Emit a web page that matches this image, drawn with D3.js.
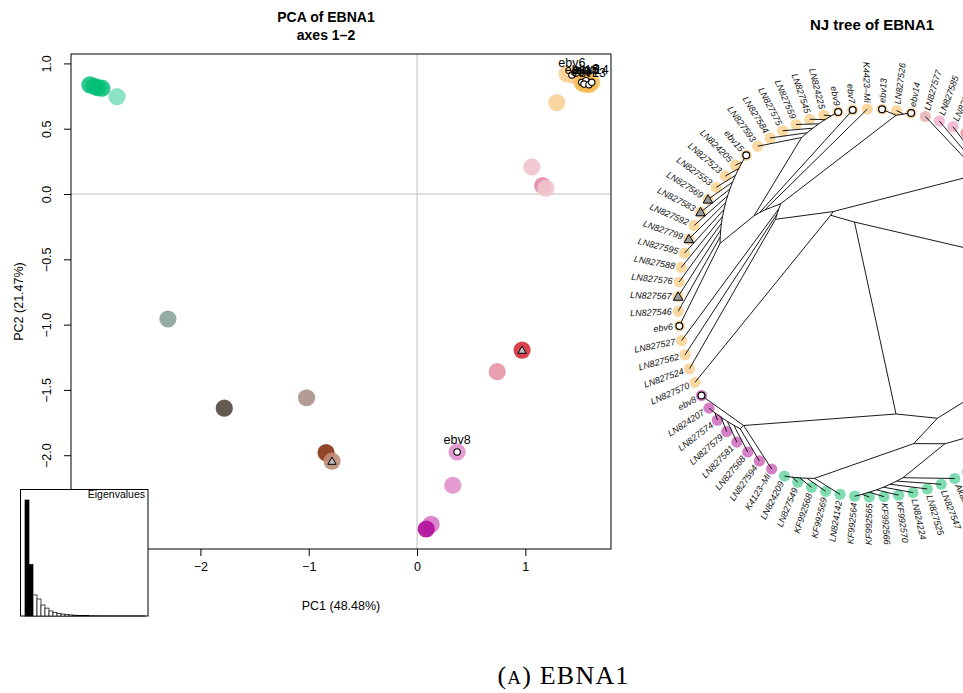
<!DOCTYPE html>
<html>
<head>
<meta charset="utf-8">
<script src="https://cdn.jsdelivr.net/npm/d3@7"></script>
<style>
  body { margin: 0; background: #fff; }
  svg { display: block; font-family: "Liberation Sans", Arial, Helvetica, sans-serif; }
</style>
</head>
<body>
<svg id="fig" width="963" height="693"></svg>
<script>
// ---------------- PCA scores (axes 1 and 2) ----------------
const pcaPC1 = [-3.02, -2.98, -2.95, -2.91, -2.77, -2.30, -1.78, -1.02, -0.84, -0.785,
                0.37, 0.33, 0.13, 0.085, 0.97, 0.74, 1.06, 1.16, 1.19, 1.29,
                1.385, 1.43, 1.521, 1.560, 1.542, 1.588, 1.613, 1.57];
const pcaPC2 = [0.835, 0.825, 0.815, 0.81, 0.745, -0.957, -1.64, -1.56, -1.98, -2.045,
                -1.975, -2.23, -2.53, -2.565, -1.195, -1.36, 0.207, 0.065, 0.045, 0.70,
                0.92, 0.912, 0.855, 0.868, 0.842, 0.837, 0.855, 0.85];
const pcaGroup = ["green", "green", "green", "green", "greenPale", "teal", "charcoal", "taupe", "rust", "clay",
                  "orchid", "orchid", "orchidPale", "magenta", "crimson", "rose", "blush", "pinkDeep", "blush", "apricot",
                  "apricot", "apricot", "amber", "amber", "amber", "amber", "amber", "amber"];
const pcaLabel = ["", "", "", "", "", "", "", "", "", "",
                  "ebv8", "", "", "", "", "", "", "", "", "",
                  "", "ebv6", "ebv15", "ebv9", "ebv7", "ebv13", "ebv14", ""];
const pcaTriangle = ["clay", "crimson"]; // groups carrying a triangle marker
const xTicks = [-3, -2, -1, 0, 1];
const yTicks = [-2.5, -2, -1.5, -1, -0.5, 0, 0.5, 1];
const pcPercent = ["48.48", "21.47"];
const eigenvalues = [48.48, 21.47, 8.8, 7.1, 4.6, 3.3, 2.1, 1.5, 1.1, 0.8,
                     0.6, 0.45, 0.35, 0.27, 0.2, 0.15, 0.12, 0.1, 0.08, 0.06,
                     0.05, 0.04, 0.03, 0.03, 0.02, 0.02, 0.01, 0.01, 0.01, 0.01];

// ---------------- NJ tree (nested clades, tips in plotting order) ----------------
const cladePurple = ["K4123–Mi", ["LN827594", ["LN827568", ["LN827581", ["LN827579", ["LN827574", "LN824207"]]]]], "ebv8"];
const cladeGreenA = ["LN824142", ["KF992569", ["KF992568", ["LN827549", "LN824209"]]]];
const cladeGreenB = ["Akata", ["LN827547", ["LN827525", ["LN824224", ["KF992570", ["KF992566", ["KF992565", "KF992564"]]]]]]];
const cladeGreenC = [["LN827557", ["LN827558", "LN827560"]], [["LN827561", "LN827563"], ["LN827564", ["LN827565", "LN827566"]]]];
const cladeBrown = [["LN827550", "LN827551"], [["LN827552", "LN827554"], ["LN827555", "LN827556"]]];
const cladeOrangeA = ["LN827799", ["LN827592", ["LN827583", ["LN827569", ["LN827553", ["LN827523", ["LN824205", "ebv15"]]]]]]];
const cladeOrangeB = ["ebv6", ["LN827546", ["LN827567", ["LN827576", ["LN827588", ["LN827595", cladeOrangeA]]]]]];
const cladeOrangeC = ["LN827593", ["LN827584", ["LN827575", ["LN827559", ["LN827545", ["LN824225", "ebv9"]]]]]];
const cladeOrangeTop = ["ebv13", ["LN827526", "ebv14"]];
const cladeOrange = ["LN827524", ["LN827562", ["LN827527", [[[[cladeOrangeB, cladeOrangeC], "ebv7"], "K4423–Mi"], cladeOrangeTop]]]];
const cladeRoseA = [["LN827528", "LN827529"], [["LN827531", ["LN827532", "LN827533"]], [["LN827534", "LN827536"], ["LN827537", "LN827538"]]]];
const cladePink = ["LN827577", ["LN827585", ["LN827580", cladeRoseA]]];
const cladeRoseB = [["LN827539", ["LN827541", "LN827542"]], [["LN827543", "LN827544"], "LN827548"]];
const njTree = [
  [[cladeBrown, [[cladeGreenC, cladeGreenB], cladeGreenA]], cladePurple],
  [["LN827570", [cladeOrange, cladePink]], cladeRoseB]
];

const tipsPurple = ["K4123–Mi", "LN827594", "LN827568", "LN827581", "LN827579", "LN827574", "LN824207", "ebv8"];
const tipsPink = ["LN827585", "LN827580"];
const tipsDusty = ["LN827577"];
const tipsRose = ["LN827528", "LN827529", "LN827531", "LN827532", "LN827533", "LN827534", "LN827536", "LN827537", "LN827538",
                  "LN827539", "LN827541", "LN827542", "LN827543", "LN827544", "LN827548"];
const tipsBrown = ["LN827550", "LN827551", "LN827552", "LN827554", "LN827555", "LN827556"];
const tipsGreen = ["LN824142", "KF992569", "KF992568", "LN827549", "LN824209", "Akata", "LN827547", "LN827525", "LN824224",
                   "KF992570", "KF992566", "KF992565", "KF992564", "LN827557", "LN827558", "LN827560", "LN827561",
                   "LN827563", "LN827564", "LN827565", "LN827566"];
const tipsEbv = ["ebv6", "ebv7", "ebv8", "ebv9", "ebv13", "ebv14", "ebv15"];
const tipsTriangle = ["LN827567", "LN827583", "LN827569", "LN827799"];

// ---------------- styles ----------------
const pcaColor = {
  green: ["#05BE78", 0.85], greenPale: ["#00BF7D", 0.45], teal: ["#8FA8A0", 0.95], charcoal: ["#645A50", 1],
  taupe: ["#B29C94", 1], rust: ["#8B3C1E", 0.95], clay: ["#BE8C78", 0.9], orchid: ["#E296D0", 0.95],
  orchidPale: ["#D778C8", 0.9], magenta: ["#B4149E", 0.95], crimson: ["#D8434F", 1], rose: ["#E8A0B0", 1],
  blush: ["#F0C4CC", 0.9], pinkDeep: ["#E88CAF", 0.95], apricot: ["#F8D296", 0.9], amber: ["#F6B64A", 0.7]
};
const tipColor = name =>
  tipsPurple.includes(name) ? "#D47FC6" :
  tipsPink.includes(name) ? "#F2BCD2" :
  tipsDusty.includes(name) ? "#E9BDBD" :
  tipsRose.includes(name) ? "#EBA3B4" :
  tipsBrown.includes(name) ? "#B9A08F" :
  tipsGreen.includes(name) ? "#7FDCB0" : "#F9D8A2";

const svg = d3.select("#fig");

// ================= PCA scatter =================
const px = d3.scaleLinear().domain([-3.195, 1.791]).range([71, 611]);
const py = d3.scaleLinear().domain([-2.718, 1.072]).range([549, 54]);
const pca = svg.append("g");

pca.append("line").attr("x1", px(0)).attr("x2", px(0)).attr("y1", py.range()[1]).attr("y2", py.range()[0])
  .attr("stroke", "#BEBEBE").attr("stroke-width", 1);
pca.append("line").attr("x1", px.range()[0]).attr("x2", px.range()[1]).attr("y1", py(0)).attr("y2", py(0))
  .attr("stroke", "#BEBEBE").attr("stroke-width", 1);

const xAxis = pca.append("g").attr("transform", `translate(0,${py.range()[0]})`)
  .call(d3.axisBottom(px).tickValues(xTicks).tickSize(7).tickPadding(6).tickFormat(d3.format("d")));
xAxis.select(".domain").remove();
xAxis.selectAll("text").attr("font-size", 12.5).attr("font-family", "Liberation Sans, Arial, sans-serif").attr("fill", "#000");

const yAxis = pca.append("g").attr("transform", `translate(${px.range()[0]},0)`)
  .call(d3.axisLeft(py).tickValues(yTicks).tickSize(7).tickFormat(d3.format(".1f")));
yAxis.select(".domain").remove();
yAxis.selectAll("text").attr("font-size", 12.5).attr("font-family", "Liberation Sans, Arial, sans-serif").attr("fill", "#000")
  .attr("transform", "rotate(-90)").attr("x", 0).attr("y", -20.5).attr("dy", 0).attr("text-anchor", "middle");

pca.append("rect").attr("x", px.range()[0]).attr("y", py.range()[1])
  .attr("width", px.range()[1] - px.range()[0]).attr("height", py.range()[0] - py.range()[1])
  .attr("fill", "none").attr("stroke", "#000").attr("stroke-width", 1);

pca.append("text").attr("x", 341).attr("y", 610).attr("text-anchor", "middle").attr("font-size", 12.5)
  .text(`PC1 (${pcPercent[0]}%)`);
pca.append("text").attr("transform", "translate(22.5,301.5) rotate(-90)").attr("text-anchor", "middle").attr("font-size", 12.5)
  .text(`PC2 (${pcPercent[1]}%)`);

pca.append("text").attr("x", 326).attr("y", 22).attr("text-anchor", "middle").attr("font-size", 14).attr("font-weight", "bold")
  .text("PCA of EBNA1");
pca.append("text").attr("x", 326).attr("y", 40).attr("text-anchor", "middle").attr("font-size", 14).attr("font-weight", "bold")
  .text("axes 1–2");

const pts = pcaPC1.map((v, i) => ({ x: v, y: pcaPC2[i], g: pcaGroup[i], label: pcaLabel[i] }));
pca.selectAll("circle.pt").data(pts).join("circle").attr("class", "pt")
  .attr("cx", d => px(d.x)).attr("cy", d => py(d.y)).attr("r", 8.6)
  .attr("fill", d => pcaColor[d.g][0]).attr("fill-opacity", d => pcaColor[d.g][1]);

pca.selectAll("path.tri").data(pts.filter(d => pcaTriangle.includes(d.g))).join("path").attr("class", "tri")
  .attr("d", d3.symbol(d3.symbolTriangle).size(30))
  .attr("transform", d => `translate(${px(d.x)},${py(d.y) + 0.8})`)
  .attr("fill", "#BDBDBD").attr("stroke", "#000").attr("stroke-width", 1);

const ebvPts = pts.filter(d => d.label);
pca.selectAll("circle.ebv").data(ebvPts).join("circle").attr("class", "ebv")
  .attr("cx", d => px(d.x)).attr("cy", d => py(d.y)).attr("r", 3.2)
  .attr("fill", "#fff").attr("stroke", "#000").attr("stroke-width", 1.1);
pca.selectAll("text.ebvl").data(ebvPts).join("text").attr("class", "ebvl")
  .attr("x", d => px(d.x)).attr("y", d => py(d.y) - 8).attr("text-anchor", "middle").attr("font-size", 12.5)
  .text(d => d.label);

// Eigenvalue inset
const inset = svg.append("g");
inset.append("rect").attr("x", 20.5).attr("y", 489.5).attr("width", 127.5).attr("height", 126.5)
  .attr("fill", "#fff").attr("stroke", "#000").attr("stroke-width", 1);
const ex = d3.scaleBand().domain(d3.range(eigenvalues.length)).range([25, 145]).paddingInner(0);
const ey = d3.scaleLinear().domain([0, d3.max(eigenvalues)]).range([616, 500]);
inset.selectAll("rect.bar").data(eigenvalues).join("rect").attr("class", "bar")
  .attr("x", (d, i) => ex(i)).attr("width", ex.bandwidth())
  .attr("y", d => ey(d)).attr("height", d => ey(0) - ey(d))
  .attr("fill", (d, i) => i < 2 ? "#000" : "#fff").attr("stroke", "#000").attr("stroke-width", 0.7);
inset.append("text").attr("x", 145).attr("y", 498).attr("text-anchor", "end").attr("font-size", 10.5).text("Eigenvalues");

// ================= NJ tree (radial cladogram) =================
const cx = 872, cy = 303, R = 194;
const root = d3.hierarchy(njTree, d => Array.isArray(d) ? d : null);
const leaves = root.leaves();
const N = leaves.length;
const angle = d3.scaleLinear().domain([0, N]).range([4.05, 364.05]);
const radius = d3.scaleLinear().domain([N, 1]).range([0, R]);
leaves.forEach((l, i) => { l.a = angle(i); });
root.eachAfter(n => {
  const lv = n.leaves();
  if (n.children) n.a = d3.mean(lv, l => l.a);
  n.r = radius(lv.length);
  const t = n.a * Math.PI / 180;
  n.px = cx + n.r * Math.cos(t);
  n.py = cy + n.r * Math.sin(t);
});

const tree = svg.append("g");
tree.append("text").attr("x", 872).attr("y", 30).attr("text-anchor", "middle").attr("font-size", 15).attr("font-weight", "bold")
  .text("NJ tree of EBNA1");

tree.selectAll("circle.tip").data(leaves).join("circle").attr("class", "tip")
  .attr("cx", d => d.px).attr("cy", d => d.py).attr("r", 5.6).attr("fill", d => tipColor(d.data));

tree.selectAll("line.edge").data(root.links()).join("line").attr("class", "edge")
  .attr("x1", d => d.source.px).attr("y1", d => d.source.py)
  .attr("x2", d => d.target.px).attr("y2", d => d.target.py)
  .attr("stroke", "#000").attr("stroke-width", 0.9);

tree.selectAll("circle.ebvtip").data(leaves.filter(l => tipsEbv.includes(l.data))).join("circle").attr("class", "ebvtip")
  .attr("cx", d => d.px).attr("cy", d => d.py).attr("r", 3.4)
  .attr("fill", "#fff").attr("stroke", "#000").attr("stroke-width", 1.2);
tree.selectAll("path.tritip").data(leaves.filter(l => tipsTriangle.includes(l.data))).join("path").attr("class", "tritip")
  .attr("d", d3.symbol(d3.symbolTriangle).size(40))
  .attr("transform", d => `translate(${d.px},${d.py + 0.8})`)
  .attr("fill", "#9C9C9C").attr("stroke", "#000").attr("stroke-width", 1);

tree.selectAll("text.tiplab").data(leaves).join("text").attr("class", "tiplab")
  .attr("font-size", 9).attr("font-style", "italic").attr("fill", "#111").attr("dominant-baseline", "central")
  .attr("transform", d => {
    const left = Math.cos(d.a * Math.PI / 180) < 0;
    return `translate(${cx},${cy}) rotate(${d.a}) translate(${R + 6.5},0)` + (left ? " rotate(180)" : "");
  })
  .attr("text-anchor", d => Math.cos(d.a * Math.PI / 180) < 0 ? "end" : "start")
  .text(d => d.data);

// ================= caption =================
const cap = svg.append("text").attr("x", 563.5).attr("y", 684).attr("text-anchor", "middle")
  .attr("font-family", "Liberation Serif, DejaVu Serif, serif").attr("font-size", 26).attr("letter-spacing", 1.2);
cap.append("tspan").text("(");
cap.append("tspan").attr("font-size", 19).text("A");
cap.append("tspan").text(") EBNA1");
</script>
</body>
</html>
